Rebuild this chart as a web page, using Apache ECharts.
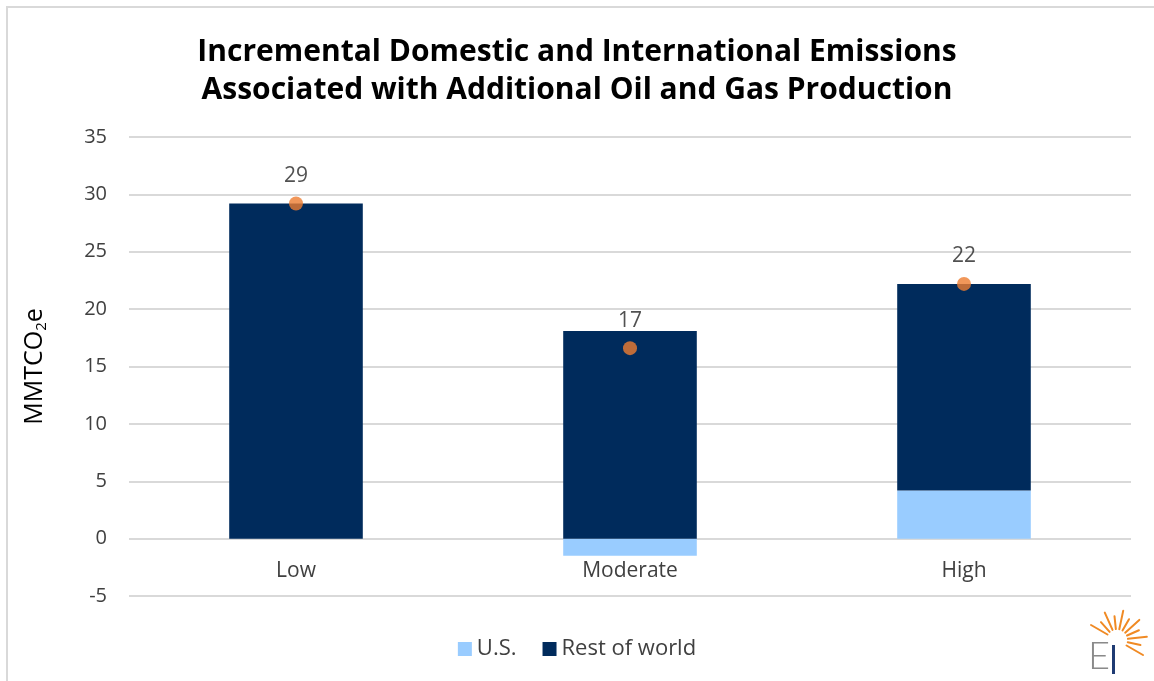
<!DOCTYPE html>
<html>
<head>
<meta charset="utf-8">
<title>Incremental Domestic and International Emissions</title>
<script src="https://cdn.jsdelivr.net/npm/echarts@6/dist/echarts.min.js"></script>
<style>
  html, body { margin: 0; padding: 0; background: #ffffff; }
  #chart { width: 1154px; height: 681px; }
</style>
</head>
<body>
<div id="chart"></div>
<script>
// Scenarios and emissions (MMTCO2e)
const categories = ['Low', 'Moderate', 'High'];
const usValues = [0, -1.5, 4.2];
const restOfWorldValues = [29.2, 18.1, 18.0];
const netTotals = [29.2, 16.6, 22.2];
const yTicks = { min: -5, max: 35, interval: 5 };

const FONT = '"Open Sans", Lato, sans-serif';
const TEXT = '#404040';
const GRID = '#d9d9d9';

const GRID_TOP = 137, GRID_BOTTOM = 85, CHART_H = 681;
const plotHeight = CHART_H - GRID_TOP - GRID_BOTTOM;
// Category labels sit under the zero line rather than the bottom of the plot
const zeroLift = plotHeight * (0 - yTicks.min) / (yTicks.max - yTicks.min);

const chart = echarts.init(document.getElementById('chart'), null, { renderer: 'canvas' });

// Sunburst rays of the logo
const rays = [];
const rayAngles = [-150, -132, -114, -96, -78, -60, -42, -24, -6, 12, 30];
rayAngles.forEach((deg, i) => {
  const a = deg * Math.PI / 180;
  const r0 = 11, r1 = (i % 2 === 0) ? 30 : 24;
  const cx = 1117, cy = 640;
  rays.push({
    type: 'line',
    shape: { x1: cx + r0 * Math.cos(a), y1: cy + r0 * Math.sin(a), x2: cx + r1 * Math.cos(a), y2: cy + r1 * Math.sin(a) },
    style: { stroke: '#f08a24', lineWidth: 2, lineCap: 'round' },
    silent: true
  });
});

const option = {
  backgroundColor: '#ffffff',
  animation: false,
  title: {
    text: 'Incremental Domestic and International Emissions\nAssociated with Additional Oil and Gas Production',
    left: 'center',
    top: 28,
    textStyle: { fontFamily: FONT, fontWeight: 'bold', fontSize: 30, lineHeight: 38, color: '#000000' }
  },
  legend: {
    bottom: 16,
    left: 'center',
    itemWidth: 14,
    itemHeight: 14,
    itemGap: 26,
    icon: 'rect',
    data: ['U.S.', 'Rest of world'],
    textStyle: { fontFamily: FONT, fontSize: 22, color: TEXT }
  },
  grid: { left: 129, right: 23, top: GRID_TOP, bottom: GRID_BOTTOM },
  xAxis: {
    type: 'category',
    data: categories,
    offset: -zeroLift,
    axisLine: { show: false, onZero: false },
    axisTick: { show: false },
    axisLabel: { fontFamily: FONT, fontSize: 21, color: TEXT, margin: 22 }
  },
  yAxis: {
    type: 'value',
    min: yTicks.min,
    max: yTicks.max,
    interval: yTicks.interval,
    name: '{a|MMTCO}{s|2}{a|e}',
    nameLocation: 'middle',
    nameGap: 80,
    nameRotate: 90,
    nameTextStyle: {
      rich: {
        a: { fontFamily: FONT, fontSize: 25, color: '#000000' },
        s: { fontFamily: FONT, fontSize: 15, color: '#000000', verticalAlign: 'bottom', padding: [14, 0, 0, 0] }
      }
    },
    axisLine: { show: false },
    axisTick: { show: false },
    splitLine: { lineStyle: { color: GRID, width: 2 } },
    axisLabel: { fontFamily: FONT, fontSize: 20, color: TEXT, margin: 22 }
  },
  series: [
    {
      name: 'U.S.',
      type: 'bar',
      stack: 'total',
      barWidth: '40%',
      data: usValues,
      itemStyle: { color: '#99ccff' }
    },
    {
      name: 'Rest of world',
      type: 'bar',
      stack: 'total',
      barWidth: '40%',
      data: restOfWorldValues,
      itemStyle: { color: '#002b5c' }
    },
    {
      name: 'Net total',
      type: 'scatter',
      data: netTotals,
      symbol: 'circle',
      symbolSize: 14,
      itemStyle: { color: '#ed7d31' },
      z: 5,
      label: {
        show: true,
        position: 'top',
        distance: 10,
        formatter: p => Math.round(p.value).toString(),
        fontFamily: FONT,
        fontSize: 21,
        color: '#262626'
      }
    }
  ],
  graphic: [
    // Frame lines
    { type: 'line', shape: { x1: 6, y1: 7, x2: 1154, y2: 7 }, style: { stroke: GRID, lineWidth: 2 }, silent: true },
    { type: 'line', shape: { x1: 7, y1: 7, x2: 7, y2: 681 }, style: { stroke: GRID, lineWidth: 2 }, silent: true },
    // Logo
    ...rays,
    { type: 'text', left: 1088, top: 638, style: { text: 'E', font: '300 38px Lato, sans-serif', fill: '#8a8a8a' }, silent: true },
    { type: 'rect', shape: { x: 1112, y: 645, width: 3, height: 29 }, style: { fill: '#1f3b73' }, silent: true }
  ]
};

chart.setOption(option);
</script>
</body>
</html>
